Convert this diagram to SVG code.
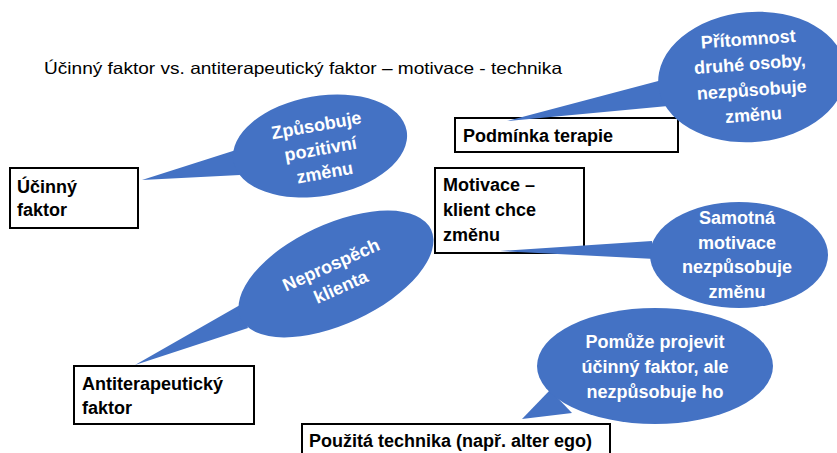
<svg xmlns="http://www.w3.org/2000/svg" width="837" height="453" viewBox="0 0 837 453">
<style>
.box{fill:#fff;stroke:#000;stroke-width:2}
.bt{font-family:"Liberation Sans",Arial,sans-serif;font-weight:bold;font-size:18px;fill:#000}
.bub{fill:#4472C4}
.wt{font-family:"Liberation Sans",Arial,sans-serif;font-weight:bold;font-size:18px;fill:#fff;text-anchor:middle}
.title{font-family:"Liberation Sans",Arial,sans-serif;font-size:16.5px;fill:#000}
</style>
<rect width="837" height="453" fill="#fff"/>
<text class="title" x="44" y="74" textLength="518" lengthAdjust="spacingAndGlyphs">Účinný faktor vs. antiterapeutický faktor – motivace - technika</text>

<g id="n-ucinny">
<rect class="box" x="10" y="168" width="128" height="60"/>
<text class="bt" x="17" y="193">Účinný</text>
<text class="bt" x="17" y="216">faktor</text>
</g>
<g id="n-anti">
<rect class="box" x="74" y="366" width="180" height="58"/>
<text class="bt" x="82" y="390">Antiterapeutický</text>
<text class="bt" x="82" y="414">faktor</text>
</g>
<g id="n-podminka">
<rect class="box" x="455" y="118" width="223" height="34"/>
<text class="bt" x="463" y="142">Podmínka terapie</text>
</g>
<g id="n-motivace">
<rect class="box" x="435" y="168" width="149" height="85"/>
<text class="bt" x="443" y="191">Motivace –</text>
<text class="bt" x="443" y="216">klient chce</text>
<text class="bt" x="443" y="241">změnu</text>
</g>
<g id="n-technika">
<rect class="box" x="302" y="424" width="308" height="40"/>
<text class="bt" x="309" y="447">Použitá technika (např. alter ego)</text>
</g>

<g id="connectors">
<g id="c1">
<polygon class="bub" points="142,180 236,150 240,175"/>
<ellipse class="bub" cx="320" cy="146" rx="88" ry="50" transform="rotate(-10 320 146)"/>
</g>
<g id="c2">
<polygon class="bub" points="135,365 240,305 248,328"/>
<ellipse class="bub" cx="336" cy="274" rx="105" ry="50" transform="rotate(-25 336 274)"/>
</g>
<g id="c3">
<polygon class="bub" points="507,121 662,80 668,106"/>
<ellipse class="bub" cx="752" cy="77" rx="94" ry="65" transform="rotate(-5 752 77)"/>
</g>
<g id="c4">
<polygon class="bub" points="500,251 652,241 655,259"/>
<ellipse class="bub" cx="739" cy="255" rx="89" ry="53"/>
</g>
<g id="c5">
<polygon class="bub" points="522,419 550,390 572,413"/>
<ellipse class="bub" cx="655" cy="366" rx="118" ry="58"/>
</g>
</g>

<g id="n-bubble1">
<g transform="rotate(-10 320 146)">
<text class="wt" x="320" y="131">Způsobuje</text>
<text class="wt" x="320" y="155">pozitivní</text>
<text class="wt" x="320" y="179">změnu</text>
</g>
</g>
<g id="n-bubble2">
<g transform="rotate(-24 336 276)">
<text class="wt" x="336" y="270">Neprospěch</text>
<text class="wt" x="336" y="294">klienta</text>
</g>
</g>
<g id="n-bubble3">
<g transform="rotate(-4 751 80)">
<text class="wt" x="751" y="45">Přítomnost</text>
<text class="wt" x="751" y="70">druhé osoby,</text>
<text class="wt" x="751" y="96">nezpůsobuje</text>
<text class="wt" x="751" y="121">změnu</text>
</g>
</g>
<g id="n-bubble4">
<text class="wt" x="737" y="224">Samotná</text>
<text class="wt" x="737" y="249">motivace</text>
<text class="wt" x="737" y="273">nezpůsobuje</text>
<text class="wt" x="737" y="298">změnu</text>
</g>
<g id="n-bubble5">
<text class="wt" x="655" y="348">Pomůže projevit</text>
<text class="wt" x="655" y="373">účinný faktor, ale</text>
<text class="wt" x="655" y="398">nezpůsobuje ho</text>
</g>
</svg>
